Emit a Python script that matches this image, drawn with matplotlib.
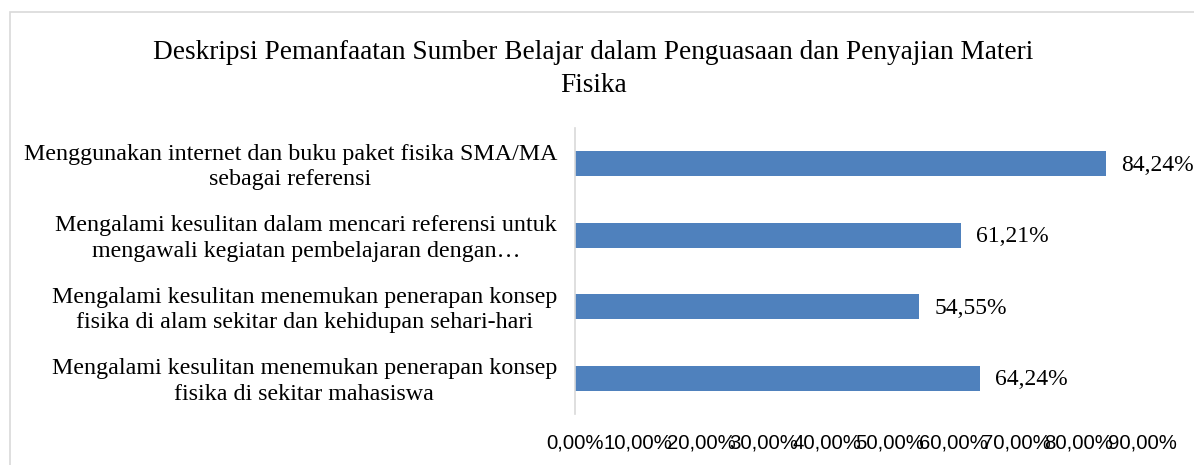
import matplotlib.pyplot as plt
from matplotlib.patches import Rectangle

kategori = [
    "Menggunakan internet dan buku paket fisika SMA/MA\nsebagai referensi",
    "Mengalami kesulitan dalam mencari referensi untuk\nmengawali kegiatan pembelajaran dengan\u2026",
    "Mengalami kesulitan menemukan penerapan konsep\nfisika di alam sekitar dan kehidupan sehari-hari",
    "Mengalami kesulitan menemukan penerapan konsep\nfisika di sekitar mahasiswa",
]
nilai = [84.24, 61.21, 54.55, 64.24]
label_nilai = ["84,24%", "61,21%", "54,55%", "64,24%"]
ticks = [0, 10, 20, 30, 40, 50, 60, 70, 80, 90]
tick_label = ["%d,00%%" % t for t in ticks]

serif = "Liberation Serif"
W, H = 1194, 465
fig = plt.figure(figsize=(W / 100, H / 100), dpi=100)

# bingkai luar
fig.patches.append(Rectangle((10 / W, -0.01), 1.2, 1 - 12 / H + 0.01, transform=fig.transFigure,
                             fill=False, edgecolor="#d9d9d9", linewidth=1.2))

ax = fig.add_axes([575 / W, 1 - 414 / H, 567 / W, 286 / H])
pos = range(len(kategori))
ax.barh(pos, nilai, height=0.35, color="#4f81bd")
ax.set_ylim(3.5, -0.5)
ax.set_xlim(0, 90)

for i, (v, t) in enumerate(zip(nilai, label_nilai)):
    ax.text(v + 2.5, i + 0.02, t, va="center", ha="left", fontsize=17, family=serif)

ax.set_yticks(list(pos))
ax.set_yticklabels([])
for i, k in enumerate(kategori):
    ax.text(-18 / 6.3, i + 0.045, k, ha="right", va="center", multialignment="center",
            fontsize=17.3, family=serif, linespacing=1.3, transform=ax.transData)

ax.set_xticks(ticks)
ax.set_xticklabels(tick_label, fontsize=14.7, family="Liberation Sans")
ax.tick_params(axis="both", length=0)
ax.tick_params(axis="x", pad=14)

for s in ["top", "right", "bottom"]:
    ax.spines[s].set_visible(False)
ax.spines["left"].set_color("#d9d9d9")
ax.spines["left"].set_linewidth(1.2)

fig.text(593 / W, 1 - 69 / H,
         "Deskripsi Pemanfaatan Sumber Belajar dalam Penguasaan dan Penyajian Materi\nFisika",
         ha="center", va="center", fontsize=19.6, family=serif, linespacing=1.45)

fig.savefig("out.png", dpi=100)
